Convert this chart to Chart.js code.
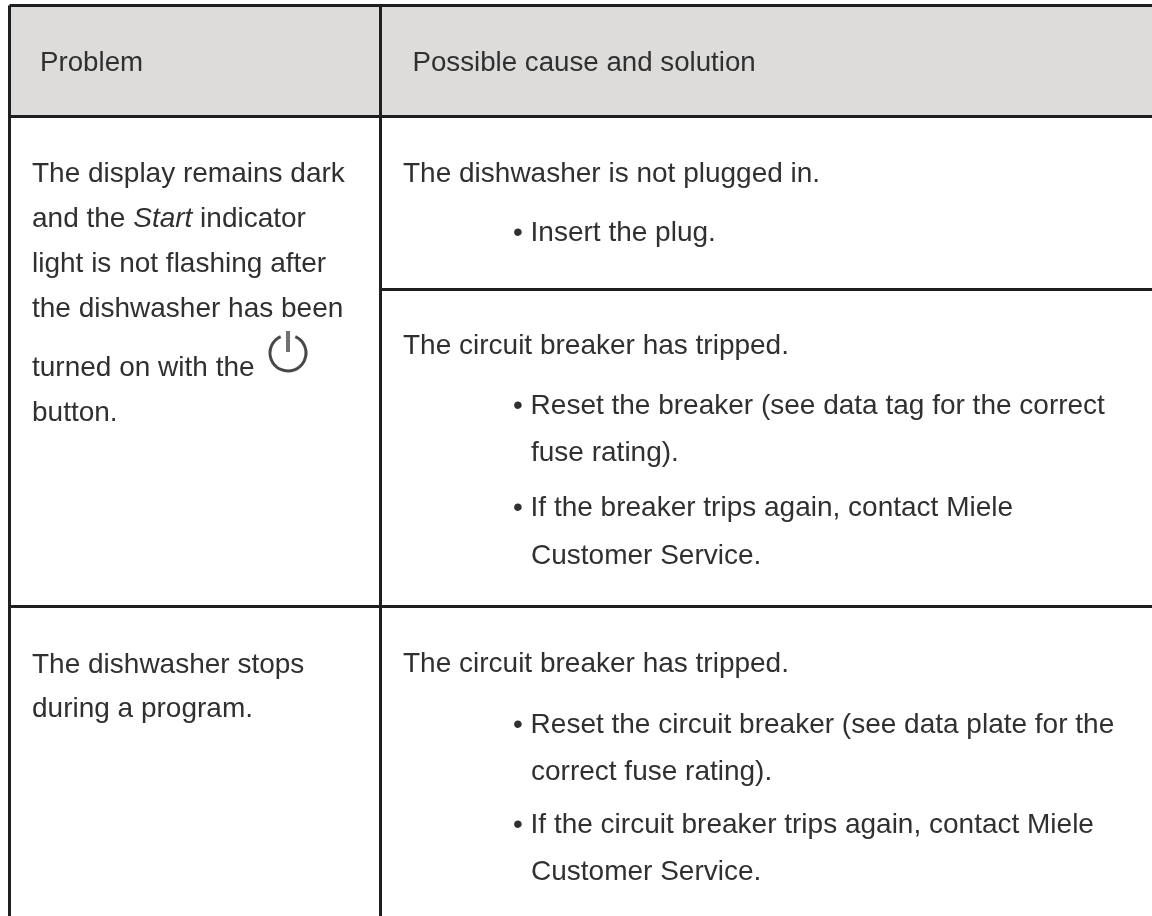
<!DOCTYPE html>
<html lang="en">
<head>
    <meta charset="UTF-8">
    <title>Dishwasher troubleshooting table</title>
    <script src="https://cdn.jsdelivr.net/npm/chart.js"></script>
    <style>
        html, body { margin: 0; padding: 0; background: #fff; overflow: hidden; }
        #wrap { width: 1152px; height: 916px; }
    </style>
</head>
<body>
    <div id="wrap"><canvas id="tableChart" width="1152" height="916"></canvas></div>
    <script>
    // Table content
    const headerLabels = ['Problem', 'Possible cause and solution'];
    const problemLines = [
        'The display remains dark',
        ['and the ', '*Start', ' indicator'],
        'light is not flashing after',
        'the dishwasher has been',
        'turned on with the',
        'button.',
        'The dishwasher stops',
        'during a program.'
    ];
    const causeLines = [
        'The dishwasher is not plugged in.',
        'The circuit breaker has tripped.',
        'The circuit breaker has tripped.'
    ];
    const solutionLines = [
        '• Insert the plug.',
        '• Reset the breaker (see data tag for the correct',
        'fuse rating).',
        '• If the breaker trips again, contact Miele',
        'Customer Service.',
        '• Reset the circuit breaker (see data plate for the',
        'correct fuse rating).',
        '• If the circuit breaker trips again, contact Miele',
        'Customer Service.'
    ];

    // Table geometry, in scale units
    const columnEdges = [9.5, 380.5, 1152];
    const rowEdges = [5.5, 116.5, 289.5, 606.5, 916];
    const headerX = [40, 412.5];
    const headerY = 71;
    const problemX = 32;
    const problemY = [182, 227, 272, 317, 376, 421, 673, 717];
    const causeX = 403;
    const causeY = [182, 354, 672];
    const solutionX = [513, 513, 531, 513, 531, 513, 531, 513, 531];
    const solutionY = [241, 414, 461, 516, 564, 733, 780, 833, 880];
    const powerIcon = { x: 288, y: 353, r: 18 };

    const fontFamily = '"Liberation Sans", Arial, sans-serif';
    const fontSize = 28;
    const headerFontSize = 27.7;
    const textColor = '#303030';
    const ruleColor = '#1f1f1f';

    function rule(x0, y0, x1, y1, width) {
        return {
            data: [{ x: x0, y: y0 }, { x: x1, y: y1 }],
            borderColor: ruleColor,
            borderWidth: width,
            pointRadius: 0,
            fill: false
        };
    }

    const headerFill = {
        data: [{ x: columnEdges[0], y: rowEdges[1] }, { x: columnEdges[2], y: rowEdges[1] }],
        borderWidth: 0,
        pointRadius: 0,
        backgroundColor: '#dddcdb',
        fill: { value: rowEdges[0] }
    };

    const rules = [
        rule(columnEdges[0], rowEdges[0], columnEdges[2], rowEdges[0], 3),
        rule(columnEdges[0], rowEdges[1], columnEdges[2], rowEdges[1], 3),
        rule(columnEdges[1], rowEdges[2], columnEdges[2], rowEdges[2], 3),
        rule(columnEdges[0], rowEdges[3], columnEdges[2], rowEdges[3], 3),
        rule(columnEdges[0], rowEdges[0], columnEdges[0], rowEdges[4], 3),
        rule(columnEdges[1], rowEdges[0], columnEdges[1], rowEdges[4], 3)
    ];

    // Draws the cell text and the power symbol on top of the rules
    const cellText = {
        id: 'cellText',
        afterDatasetsDraw(chart) {
            const ctx = chart.ctx;
            const sx = chart.scales.x;
            const sy = chart.scales.y;

            ctx.save();
            ctx.fillStyle = textColor;
            ctx.textBaseline = 'alphabetic';

            function put(text, x, y, size) {
                let px = sx.getPixelForValue(x);
                const py = sy.getPixelForValue(y);
                const parts = Array.isArray(text) ? text : [text];
                parts.forEach(part => {
                    const italic = part.startsWith('*');
                    const str = italic ? part.slice(1) : part;
                    ctx.font = (italic ? 'italic ' : '') + size + 'px ' + fontFamily;
                    ctx.fillText(str, px, py);
                    px += ctx.measureText(str).width;
                });
            }

            headerLabels.forEach((t, i) => put(t, headerX[i], headerY, headerFontSize));
            problemLines.forEach((t, i) => put(t, problemX, problemY[i], fontSize));
            causeLines.forEach((t, i) => put(t, causeX, causeY[i], fontSize));
            solutionLines.forEach((t, i) => put(t, solutionX[i], solutionY[i], fontSize));

            // power symbol
            const cx = sx.getPixelForValue(powerIcon.x);
            const cy = sy.getPixelForValue(powerIcon.y);
            ctx.strokeStyle = '#484848';
            ctx.lineWidth = 3;
            ctx.beginPath();
            ctx.arc(cx, cy, powerIcon.r, -Math.PI / 2 + 0.42, -Math.PI / 2 - 0.42);
            ctx.stroke();
            ctx.strokeStyle = '#707070';
            ctx.lineWidth = 4;
            ctx.beginPath();
            ctx.moveTo(cx, cy - 22);
            ctx.lineTo(cx, cy - 1);
            ctx.stroke();
            ctx.restore();
        }
    };

    new Chart(document.getElementById('tableChart'), {
        type: 'line',
        // first dataset draws on top, so the header fill goes last
        data: { datasets: [...rules, headerFill] },
        plugins: [cellText],
        options: {
            responsive: false,
            animation: false,
            layout: { padding: 0 },
            plugins: { legend: { display: false }, tooltip: { enabled: false } },
            scales: {
                x: { type: 'linear', display: false, min: 0, max: 1152 },
                y: { type: 'linear', display: false, min: 0, max: 916, reverse: true }
            }
        }
    });
    </script>
</body>
</html>
